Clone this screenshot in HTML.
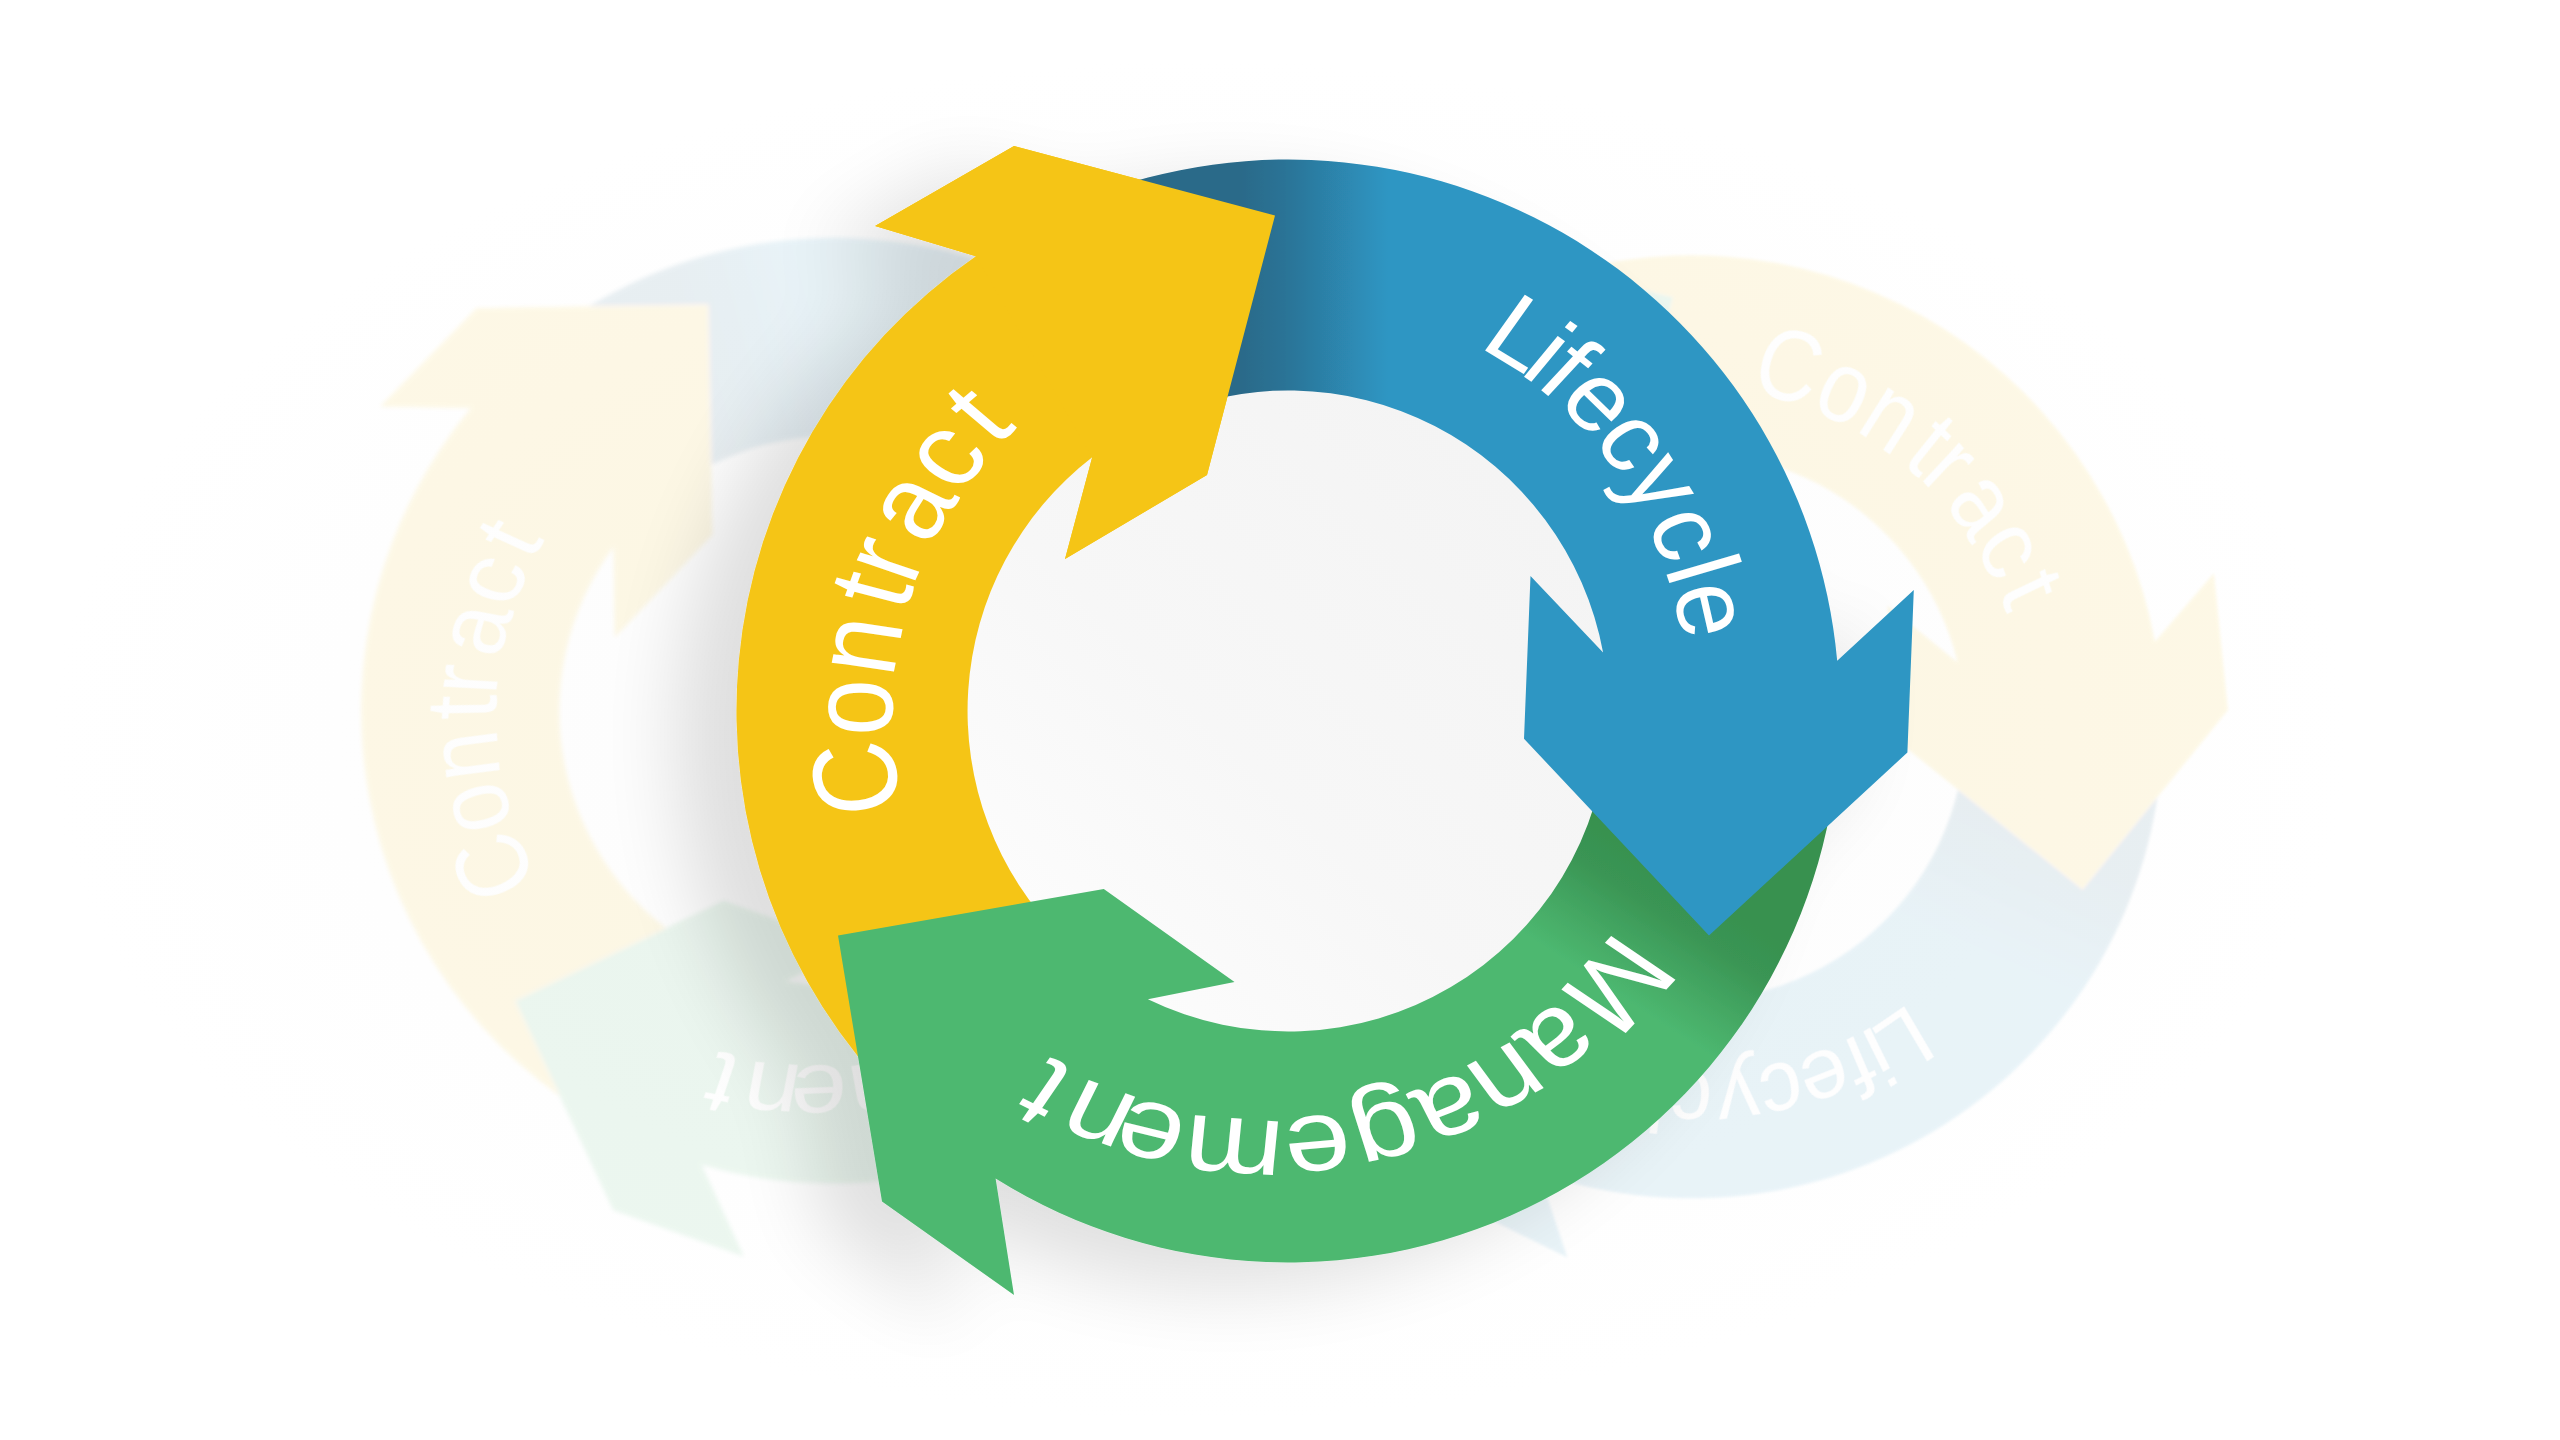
<!DOCTYPE html>
<html><head><meta charset="utf-8"><title>Contract Lifecycle Management</title>
<style>html,body{margin:0;padding:0;background:#fff}body{width:2560px;height:1440px;overflow:hidden}svg{display:block}</style>
</head><body>
<svg width="2560" height="1440" viewBox="0 0 2560 1440">
<defs>
<radialGradient id="bgg" cx="1200" cy="740" r="1" gradientUnits="userSpaceOnUse" gradientTransform="translate(1200 740) scale(1150 680) translate(-1200 -740)">
<stop offset="0" stop-color="#fcfcfc" stop-opacity="1"/>
<stop offset="0.5" stop-color="#fdfdfd" stop-opacity="1"/>
<stop offset="1" stop-color="#ffffff" stop-opacity="1"/>
</radialGradient>
<linearGradient id="discg" gradientUnits="userSpaceOnUse" x1="1520" y1="480" x2="1060" y2="940"><stop offset="0" stop-color="#f4f4f4"/><stop offset="0.6" stop-color="#f7f7f7"/><stop offset="1" stop-color="#fcfcfc"/></linearGradient>
<filter id="gtblur" x="-10%" y="-10%" width="120%" height="120%"><feGaussianBlur stdDeviation="0.6"/></filter>
<filter id="glblur" x="-10%" y="-10%" width="120%" height="120%"><feGaussianBlur stdDeviation="2.2"/></filter>
<filter id="grblur" x="-10%" y="-10%" width="120%" height="120%"><feGaussianBlur stdDeviation="1.6"/></filter>
<filter id="ds" x="-25%" y="-25%" width="150%" height="150%">
<feGaussianBlur in="SourceAlpha" stdDeviation="38" result="b1"/><feOffset in="b1" dx="-60" dy="26" result="o1"/><feComponentTransfer in="o1" result="s1"><feFuncA type="linear" slope="0.122"/></feComponentTransfer>
<feMerge><feMergeNode in="s1"/><feMergeNode in="SourceGraphic"/></feMerge></filter>
</defs>
<rect width="2560" height="1440" fill="#fff"/>
<rect width="2560" height="1440" fill="url(#bgg)"/>
<g opacity="0.1"><g filter="url(#glblur)"><g transform="translate(834.2 710.8) rotate(-15.74) scale(0.8576) translate(-1288 -711)">
<defs>
<linearGradient id="glgb" gradientUnits="userSpaceOnUse" x1="1240" y1="0" x2="1388" y2="0"><stop offset="0" stop-color="#2a6a89"/><stop offset="0.3" stop-color="#2b7396"/><stop offset="1" stop-color="#2e96c3"/></linearGradient>
<linearGradient id="glgg" gradientUnits="userSpaceOnUse" x1="1728" y1="906" x2="1654" y2="1019"><stop offset="0" stop-color="#37914f"/><stop offset="0.3" stop-color="#3a9554"/><stop offset="0.65" stop-color="#44a763"/><stop offset="1" stop-color="#4db870"/></linearGradient>
</defs>
<path d="M898.0 1101.0 A551.5 551.5 0 0 1 975.9 256.3 L875.0 226.0 L1014.0 146.0 L1275.0 215.5 L1207.0 475.0 L1065.0 559.0 L1092.2 457.3 A320.5 320.5 0 0 0 1061.4 937.6 Z" fill="#F5C518"/>
<path d="M1838.7 739.9 A551.5 551.5 0 0 1 995.6 1178.6 L1014.0 1295.0 L882.0 1201.6 L838.0 935.5 L1103.8 889.0 L1234.5 982.0 L1147.9 999.2 A320.5 320.5 0 0 0 1608.1 727.8 Z" fill="url(#glgg)"/>
<path d="M1054.9 211.2 A551.5 551.5 0 0 1 1837.2 660.8 L1913.8 590.0 L1907.4 752.4 L1709.0 935.5 L1524.0 738.7 L1530.5 576.0 L1603.1 652.4 A320.5 320.5 0 0 0 1152.6 420.5 Z" fill="url(#glgb)"/>
<path d="M975.9 256.3 L875.0 226.0 L1014.0 146.0 L1275.0 215.5 L1207.0 475.0 L1065.0 559.0 L1092.2 457.3 Z" fill="#F5C518"/>

</g></g>
<g transform="translate(834.2 710.8) rotate(-15.74) scale(0.8576) translate(-1288 -711)" filter="url(#gtblur)">
<text font-family="Liberation Sans, sans-serif" font-size="102" fill="#fff" x="901.9 891.6 892.4 904.8 912.3 927.3 956.5 994.5" y="810.2 736.6 678.5 613.1 586.8 546.8 495.0 447.4" rotate="262.2 271.4 279.8 287.1 291.9 300.0 307.9 314.7" textLength="451.0" lengthAdjust="spacingAndGlyphs">Contract</text>
<text font-family="Liberation Sans, sans-serif" font-size="97" fill="#fff" x="1477.9 1518.5 1534.3 1555.8 1591.6 1620.1 1646.0 1664.5 1672.0" y="345.9 372.8 384.7 402.1 439.5 477.6 522.3 568.4 589.3" rotate="33.4 37.4 40.7 46.5 53.5 60.1 67.6 72.5 78.1" textLength="407.6" lengthAdjust="spacingAndGlyphs">Lifecycle</text>
<text font-family="Liberation Sans, sans-serif" font-size="102" fill="#fff" x="1617.2 1560.7 1516.4 1466.4 1409.0 1347.1 1286.2 1191.5 1142.7 1078.0" y="929.5 999.8 1038.7 1071.3 1096.7 1113.5 1121.9 1112.5 1099.6 1070.9" rotate="128.5 139.5 147.6 156.5 164.8 174.0 184.9 195.9 202.9 210.4" textLength="696.6" lengthAdjust="spacingAndGlyphs">Management</text></g></g>
<g opacity="0.1"><g filter="url(#grblur)"><g transform="translate(1691.2 726.8) rotate(114.07) scale(0.855) translate(-1288 -711)">
<defs>
<linearGradient id="grgb" gradientUnits="userSpaceOnUse" x1="1240" y1="0" x2="1388" y2="0"><stop offset="0" stop-color="#2a6a89"/><stop offset="0.3" stop-color="#2b7396"/><stop offset="1" stop-color="#2e96c3"/></linearGradient>
<linearGradient id="grgg" gradientUnits="userSpaceOnUse" x1="1728" y1="906" x2="1654" y2="1019"><stop offset="0" stop-color="#37914f"/><stop offset="0.3" stop-color="#3a9554"/><stop offset="0.65" stop-color="#44a763"/><stop offset="1" stop-color="#4db870"/></linearGradient>
</defs>
<path d="M898.0 1101.0 A551.5 551.5 0 0 1 975.9 256.3 L875.0 226.0 L1014.0 146.0 L1275.0 215.5 L1207.0 475.0 L1065.0 559.0 L1092.2 457.3 A320.5 320.5 0 0 0 1061.4 937.6 Z" fill="#F5C518"/>
<path d="M1838.7 739.9 A551.5 551.5 0 0 1 995.6 1178.6 L1014.0 1295.0 L882.0 1201.6 L838.0 935.5 L1103.8 889.0 L1234.5 982.0 L1147.9 999.2 A320.5 320.5 0 0 0 1608.1 727.8 Z" fill="url(#grgg)"/>
<path d="M1054.9 211.2 A551.5 551.5 0 0 1 1837.2 660.8 L1913.8 590.0 L1907.4 752.4 L1709.0 935.5 L1524.0 738.7 L1530.5 576.0 L1603.1 652.4 A320.5 320.5 0 0 0 1152.6 420.5 Z" fill="url(#grgb)"/>
<path d="M975.9 256.3 L875.0 226.0 L1014.0 146.0 L1275.0 215.5 L1207.0 475.0 L1065.0 559.0 L1092.2 457.3 Z" fill="#F5C518"/>

</g></g>
<g transform="translate(1691.2 726.8) rotate(114.07) scale(0.855) translate(-1288 -711)" filter="url(#gtblur)">
<text font-family="Liberation Sans, sans-serif" font-size="102" fill="#fff" x="901.9 891.6 892.4 904.8 912.3 927.3 956.5 994.5" y="810.2 736.6 678.5 613.1 586.8 546.8 495.0 447.4" rotate="262.2 271.4 279.8 287.1 291.9 300.0 307.9 314.7" textLength="451.0" lengthAdjust="spacingAndGlyphs">Contract</text>
<text font-family="Liberation Sans, sans-serif" font-size="97" fill="#fff" x="1477.9 1518.5 1534.3 1555.8 1591.6 1620.1 1646.0 1664.5 1672.0" y="345.9 372.8 384.7 402.1 439.5 477.6 522.3 568.4 589.3" rotate="33.4 37.4 40.7 46.5 53.5 60.1 67.6 72.5 78.1" textLength="407.6" lengthAdjust="spacingAndGlyphs">Lifecycle</text>
<text font-family="Liberation Sans, sans-serif" font-size="102" fill="#fff" x="1617.2 1560.7 1516.4 1466.4 1409.0 1347.1 1286.2 1191.5 1142.7 1078.0" y="929.5 999.8 1038.7 1071.3 1096.7 1113.5 1121.9 1112.5 1099.6 1070.9" rotate="128.5 139.5 147.6 156.5 164.8 174.0 184.9 195.9 202.9 210.4" textLength="696.6" lengthAdjust="spacingAndGlyphs">Management</text></g></g>
<g filter="url(#ds)">
<defs>
<linearGradient id="mgb" gradientUnits="userSpaceOnUse" x1="1240" y1="0" x2="1388" y2="0"><stop offset="0" stop-color="#2a6a89"/><stop offset="0.3" stop-color="#2b7396"/><stop offset="1" stop-color="#2e96c3"/></linearGradient>
<linearGradient id="mgg" gradientUnits="userSpaceOnUse" x1="1728" y1="906" x2="1654" y2="1019"><stop offset="0" stop-color="#37914f"/><stop offset="0.3" stop-color="#3a9554"/><stop offset="0.65" stop-color="#44a763"/><stop offset="1" stop-color="#4db870"/></linearGradient>
</defs>
<circle cx="1288" cy="711" r="323.5" fill="url(#discg)"/>
<path d="M898.0 1101.0 A551.5 551.5 0 0 1 975.9 256.3 L875.0 226.0 L1014.0 146.0 L1275.0 215.5 L1207.0 475.0 L1065.0 559.0 L1092.2 457.3 A320.5 320.5 0 0 0 1061.4 937.6 Z" fill="#F5C518"/>
<path d="M1838.7 739.9 A551.5 551.5 0 0 1 995.6 1178.6 L1014.0 1295.0 L882.0 1201.6 L838.0 935.5 L1103.8 889.0 L1234.5 982.0 L1147.9 999.2 A320.5 320.5 0 0 0 1608.1 727.8 Z" fill="url(#mgg)"/>
<path d="M1054.9 211.2 A551.5 551.5 0 0 1 1837.2 660.8 L1913.8 590.0 L1907.4 752.4 L1709.0 935.5 L1524.0 738.7 L1530.5 576.0 L1603.1 652.4 A320.5 320.5 0 0 0 1152.6 420.5 Z" fill="url(#mgb)"/>
<path d="M975.9 256.3 L875.0 226.0 L1014.0 146.0 L1275.0 215.5 L1207.0 475.0 L1065.0 559.0 L1092.2 457.3 Z" fill="#F5C518"/>
<text font-family="Liberation Sans, sans-serif" font-size="102" fill="#fff" x="901.9 891.6 892.4 904.8 912.3 927.3 956.5 994.5" y="810.2 736.6 678.5 613.1 586.8 546.8 495.0 447.4" rotate="262.2 271.4 279.8 287.1 291.9 300.0 307.9 314.7" textLength="451.0" lengthAdjust="spacingAndGlyphs">Contract</text>
<text font-family="Liberation Sans, sans-serif" font-size="97" fill="#fff" x="1477.9 1518.5 1534.3 1555.8 1591.6 1620.1 1646.0 1664.5 1672.0" y="345.9 372.8 384.7 402.1 439.5 477.6 522.3 568.4 589.3" rotate="33.4 37.4 40.7 46.5 53.5 60.1 67.6 72.5 78.1" textLength="407.6" lengthAdjust="spacingAndGlyphs">Lifecycle</text>
<text font-family="Liberation Sans, sans-serif" font-size="102" fill="#fff" x="1617.2 1560.7 1516.4 1466.4 1409.0 1347.1 1286.2 1191.5 1142.7 1078.0" y="929.5 999.8 1038.7 1071.3 1096.7 1113.5 1121.9 1112.5 1099.6 1070.9" rotate="128.5 139.5 147.6 156.5 164.8 174.0 184.9 195.9 202.9 210.4" textLength="696.6" lengthAdjust="spacingAndGlyphs">Management</text>
</g>
</svg>
</body></html>
